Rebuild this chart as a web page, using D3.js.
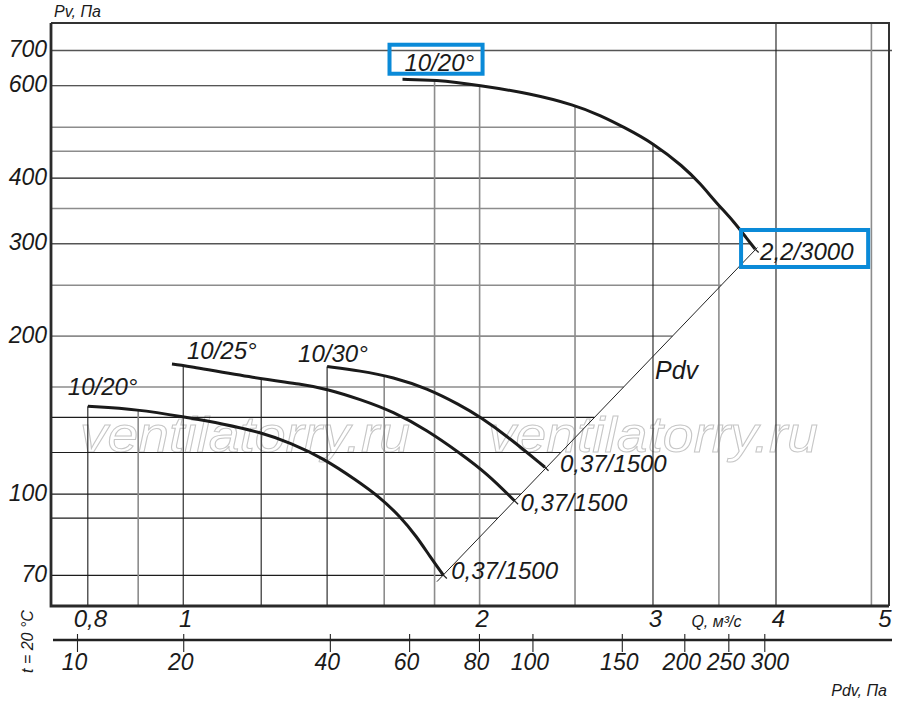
<!DOCTYPE html>
<html>
<head>
<meta charset="utf-8">
<script src="https://cdn.jsdelivr.net/npm/d3@7"></script>
<style>
  body { margin: 0; background: #fff; }
  text { font-family: "Liberation Sans", Arial, sans-serif; font-style: italic; fill: #1a1a1a; }
</style>
</head>
<body>
<svg id="chart" width="900" height="715"></svg>
<script>
// values: Q in m3/s, Pv and Pdv in Pa
const qTicks = [0.8, 1, 2, 3, 4, 5];
const pvTicks = [70, 100, 200, 300, 400, 600, 700];
const pdvTicks = [10, 20, 40, 60, 80, 100, 150, 200, 250, 300];
// Q under each Pdv tick (the lower scale is drawn by hand, not quite Q^2)
const pdvTickQ = [0.78, 1.0, 1.409, 1.696, 1.997, 2.263, 2.789, 3.228, 3.578, 3.892];

const qGrid = [0.8, 0.9, 1, 1.2, 1.4, 1.6, 1.8, 2, 2.5, 3, 3.5, 4, 5];
const pvGrid = [70, 90, 100, 120, 140, 160, 200, 250, 300, 350, 400, 450, 500, 600, 700];

// 10/20° with 2,2/3000 motor
const qBig = [1.67, 1.8, 2.0, 2.25, 2.5, 2.651, 2.804, 3.002, 3.221, 3.349, 3.482, 3.621, 3.736, 3.809];
const pvBig = [617, 616, 601, 580, 551, 527, 500, 466.3, 420.7, 391, 358.2, 331.4, 306.9, 293.1];
// 10/20° with 0,37/1500
const q20 = [0.8, 0.9, 1.0, 1.1, 1.2, 1.284, 1.388, 1.5, 1.585, 1.661, 1.727, 1.781, 1.837];
const pv20 = [147, 145, 140.3, 136, 131, 125.3, 117, 106.2, 98.5, 90.6, 82.9, 76, 70.1];
// 10/25°
const q25 = [0.974, 1.0, 1.19, 1.32, 1.4, 1.512, 1.635, 1.767, 1.911, 2.034, 2.17];
const pv25 = [177, 176, 166, 162, 158.5, 151.6, 143.5, 132.5, 119.6, 109.5, 97.1];
// 10/30°
const q30 = [1.4, 1.512, 1.635, 1.767, 1.911, 2.001, 2.147, 2.33];
const pv30 = [175, 171.8, 167, 159.1, 147.8, 140.4, 127.8, 112.5];
// dynamic pressure line
const qPdv = [1.81, 3.83];
const pvPdv = [68.1, 295];

const curveNames = ["10/20°", "10/20°", "10/25°", "10/30°"];
const motorNames = ["2,2/3000", "0,37/1500", "0,37/1500", "0,37/1500"];

// ---- layout / style ----
const pLeft = 51, pRight = 889, pTop = 23, pBottom = 606;
const startOff = [[2, -8.6], [-20, -11], [15, -4.5], [-29, -5]];
const endOff = [[5, 11], [8, 4], [6, 10], [15, 5]];
const darkPv = [600, 400, 140, 120, 100, 90, 70];
const midPv = [700, 300];
const darkQ = [0.8, 1, 1.2, 1.4, 3, 4];

const x = d3.scaleLog().domain([0.734, 5.21]).range([pLeft, pRight]);
const y = d3.scaleLog().domain([61.2, 790]).range([pBottom, pTop]);
const xPdv = d3.scaleLog().domain(pdvTicks).range(pdvTickQ.map(x));

const svg = d3.select("#chart");

const curves = [
  {q: qBig, pv: pvBig},
  {q: q20, pv: pv20},
  {q: q25, pv: pv25},
  {q: q30, pv: pv30}
];
curves.forEach((c, i) => { c.name = curveNames[i]; c.motor = motorNames[i]; });

const L = Math.log10;
function pvAt(c, q) {
  const n = c.q.length;
  if (q < c.q[0] - 1e-9 || q > c.q[n - 1] + 1e-9) return null;
  for (let i = 0; i < n - 1; i++) {
    if (q <= c.q[i + 1]) {
      const t = (L(q) - L(c.q[i])) / (L(c.q[i + 1]) - L(c.q[i]));
      return Math.pow(10, L(c.pv[i]) + t * (L(c.pv[i + 1]) - L(c.pv[i])));
    }
  }
  return c.pv[n - 1];
}
function qOnCurve(c, v) {
  for (let i = 0; i < c.q.length - 1; i++) {
    const a = c.pv[i], b = c.pv[i + 1];
    if ((v <= a && v >= b) || (v >= a && v <= b)) {
      const t = (L(v) - L(a)) / (L(b) - L(a));
      return Math.pow(10, L(c.q[i]) + t * (L(c.q[i + 1]) - L(c.q[i])));
    }
  }
  return c.q[0];
}
const pdvSlope = (L(pvPdv[1]) - L(pvPdv[0])) / (L(qPdv[1]) - L(qPdv[0]));
function qOnPdv(v) { return qPdv[0] * Math.pow(v / pvPdv[0], 1 / pdvSlope); }
function pvOnPdv(q) { return pvPdv[0] * Math.pow(q / qPdv[0], pdvSlope); }

// watermark
svg.selectAll("text.wm").data([80, 488]).join("text")
  .attr("class", "wm")
  .attr("x", d => d).attr("y", 452)
  .attr("textLength", 330).attr("lengthAdjust", "spacingAndGlyphs")
  .style("font-size", "50px").style("fill", "none")
  .style("stroke", "#c6c6c6").style("stroke-width", 1)
  .text("ventilatorry.ru");

// grid, cut off by the envelope of the curves and by the Pdv line
const grid = svg.append("g");
function hEnd(v) {
  const big = curves[0];
  if (v > d3.max(big.pv)) return pRight + 3;
  if (v >= d3.min(big.pv)) return x(qOnCurve(big, v));
  return x(qOnPdv(v));
}
function vTop(q) {
  const vals = curves.map(c => pvAt(c, q)).filter(v => v != null);
  return vals.length ? y(d3.max(vals)) : pTop;
}
function gridColor(dark, mid, v) {
  if (dark.includes(v)) return "#1c1c1c";
  if (mid.includes(v)) return "#555";
  return "#8c8c8c";
}
grid.selectAll("line.h").data(pvGrid).join("line")
  .attr("x1", pLeft).attr("x2", d => hEnd(d))
  .attr("y1", d => y(d)).attr("y2", d => y(d))
  .attr("stroke", d => gridColor(darkPv, midPv, d))
  .attr("stroke-width", d => darkPv.includes(d) ? 1.1 : 1.6);
grid.selectAll("line.v").data(qGrid).join("line")
  .attr("x1", d => x(d)).attr("x2", d => x(d))
  .attr("y1", d => vTop(d)).attr("y2", pBottom)
  .attr("stroke", d => gridColor(darkQ, [], d))
  .attr("stroke-width", d => darkQ.includes(d) ? 1.1 : 1.6);

// frame
svg.append("path")
  .attr("d", `M${pLeft},${pTop}H${pRight}V${pBottom}`)
  .attr("fill", "none").attr("stroke", "#333").attr("stroke-width", 2);
svg.append("path")
  .attr("d", `M${pLeft},${pTop}V${pBottom}H${pRight}`)
  .attr("fill", "none").attr("stroke", "#2a2a2a").attr("stroke-width", 2.8);

// Pdv line
const line = d3.line().x(d => x(d[0])).y(d => y(d[1]));
svg.append("path")
  .attr("d", line(d3.zip(qPdv, pvPdv)))
  .attr("fill", "none").attr("stroke", "#222").attr("stroke-width", 1);

// curves (basis smooths out the reading error between points)
const curveLine = d3.line().x(d => x(d[0])).y(d => y(d[1])).curve(d3.curveBasis);
svg.selectAll("path.curve").data(curves).join("path")
  .attr("class", "curve")
  .attr("d", c => curveLine(d3.zip(c.q, c.pv)))
  .attr("fill", "none").attr("stroke", "#1a1a1a").attr("stroke-width", 3);

// little cross ticks where curves meet the Pdv line
const dx = x(qPdv[1]) - x(qPdv[0]), dy = y(pvPdv[1]) - y(pvPdv[0]);
const len = Math.hypot(dx, dy);
const nx = -dy / len, ny = dx / len;
svg.selectAll("line.end").data(curves).join("line")
  .attr("x1", c => x(c.q[c.q.length - 1]) - nx * 4)
  .attr("y1", c => y(c.pv[c.pv.length - 1]) - ny * 4)
  .attr("x2", c => x(c.q[c.q.length - 1]) + nx * 5)
  .attr("y2", c => y(c.pv[c.pv.length - 1]) + ny * 5)
  .attr("stroke", "#222").attr("stroke-width", 1.2);

// curve labels
svg.selectAll("text.cname").data(curves).join("text")
  .attr("class", "cname")
  .attr("x", (c, i) => x(c.q[0]) + startOff[i][0])
  .attr("y", (c, i) => y(c.pv[0]) + startOff[i][1])
  .style("font-size", "24px")
  .text(c => c.name);
svg.selectAll("text.motor").data(curves).join("text")
  .attr("class", "motor")
  .attr("x", (c, i) => x(c.q[c.q.length - 1]) + endOff[i][0])
  .attr("y", (c, i) => y(c.pv[c.pv.length - 1]) + endOff[i][1])
  .style("font-size", "24px")
  .text(c => c.motor);

svg.append("text")
  .attr("x", x(3) + 2).attr("y", y(pvOnPdv(3)) + 23)
  .style("font-size", "25px")
  .text("Pdv");

// blue boxes round the big fan labels
const boxes = [
  {el: svg.selectAll("text.cname").nodes()[0], padL: 15, padR: 8, t: 26, h: 29},
  {el: svg.selectAll("text.motor").nodes()[0], padL: 18, padR: 14, t: 30, h: 37}
];
boxes.forEach(b => {
  const bb = b.el.getBBox();
  const by = +b.el.getAttribute("y");
  svg.append("rect")
    .attr("x", bb.x - b.padL).attr("y", by - b.t)
    .attr("width", bb.width + b.padL + b.padR).attr("height", b.h)
    .attr("fill", "none").attr("stroke", "#0a8ad8").attr("stroke-width", 4);
});

// Q axis
const comma = d => String(d).replace(".", ",");
const qAxis = svg.append("g")
  .attr("transform", `translate(0,${pBottom})`)
  .call(d3.axisBottom(x).tickValues(qTicks).tickSize(0).tickFormat(comma));
qAxis.select(".domain").remove();
qAxis.selectAll("text")
  .attr("y", 21).attr("dy", null).attr("x", 2)
  .style("font-size", "24px").attr("fill", "#1a1a1a");
qAxis.selectAll(".tick").filter(d => d === 5).select("text")
  .attr("text-anchor", "end").attr("x", pRight + 2 - x(5));
svg.append("text")
  .attr("x", x(3.48)).attr("y", 627).attr("text-anchor", "middle")
  .style("font-size", "16px").text("Q, м³/с");

// Pv axis
const yAxis = svg.append("g")
  .attr("transform", `translate(${pLeft},0)`)
  .call(d3.axisLeft(y).tickValues(pvTicks).tickSize(0).tickFormat(d3.format("d")));
yAxis.select(".domain").remove();
yAxis.selectAll("text")
  .attr("x", -4).attr("y", 6).attr("dy", null)
  .style("font-size", "23px").attr("fill", "#1a1a1a");
svg.append("text").attr("x", 54).attr("y", 17)
  .style("font-size", "16px").text("Pv, Па");

// Pdv axis
svg.append("line")
  .attr("x1", 53).attr("x2", pRight + 3).attr("y1", 640).attr("y2", 640)
  .attr("stroke", "#222").attr("stroke-width", 2.4);
const pAxis = svg.append("g")
  .attr("transform", "translate(0,640)")
  .call(d3.axisBottom(xPdv).tickValues(pdvTicks).tickSize(12).tickFormat(d3.format("d")));
pAxis.select(".domain").remove();
pAxis.selectAll("line").attr("y1", -6).attr("stroke", "#222").attr("stroke-width", 1.1);
pAxis.selectAll("text")
  .attr("y", 30).attr("dy", null).attr("x", d => d === 300 ? 5 : -3)
  .style("font-size", "23px").attr("fill", "#1a1a1a");
svg.append("text").attr("x", 887).attr("y", 696).attr("text-anchor", "end")
  .style("font-size", "16px").text("Pdv, Па");

svg.append("text")
  .attr("transform", "translate(33,673) rotate(-90)")
  .style("font-size", "16px").text("t = 20 °C");
</script>
</body>
</html>
